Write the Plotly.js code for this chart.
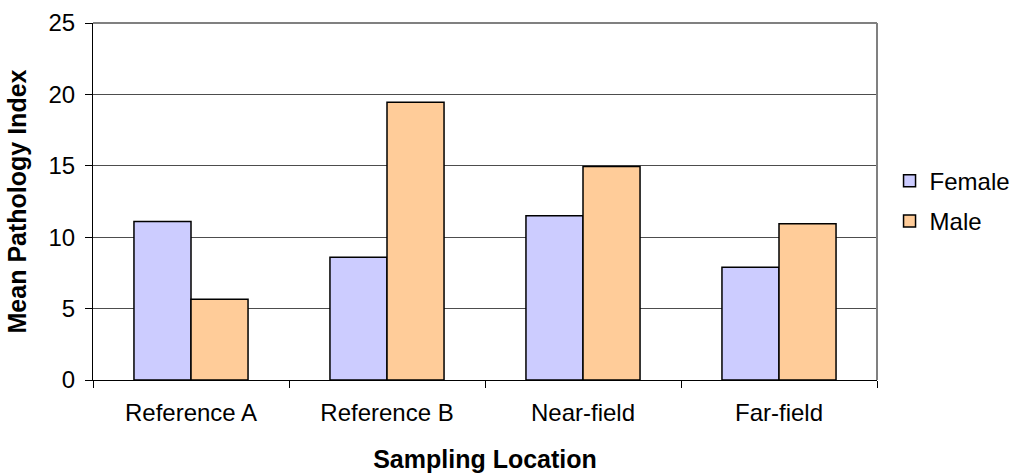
<!DOCTYPE html>
<html>
<head>
<meta charset="utf-8">
<script src="https://cdn.plot.ly/plotly-3.0.1.min.js"></script>
<style>
  html, body { margin: 0; padding: 0; background: #ffffff; }
  #chart { width: 1011px; height: 473px; }
</style>
</head>
<body>
<div id="chart"></div>
<script>
// Sampling locations and mean pathology index by sex
const locations = ["Reference A", "Reference B", "Near-field", "Far-field"];
const femaleIndex = [11.1, 8.6, 11.5, 7.9];
const maleIndex = [5.65, 19.45, 14.95, 10.95];
const yTicks = [0, 5, 10, 15, 20, 25];

const FONT = "Arial, 'Liberation Sans', sans-serif";

const traces = [
  {
    type: "bar",
    name: "Female",
    x: locations,
    y: femaleIndex,
    legendgroup: "f",
    marker: { color: "#ccccff", line: { color: "#000000", width: 1.5 } },
    hoverinfo: "skip"
  },
  {
    type: "bar",
    name: "Male",
    x: locations,
    y: maleIndex,
    legendgroup: "m",
    marker: { color: "#ffcc99", line: { color: "#000000", width: 1.5 } },
    hoverinfo: "skip"
  }
];

const layout = {
  width: 1011,
  height: 473,
  margin: { l: 93, r: 134, t: 23, b: 93, autoexpand: false },
  paper_bgcolor: "#ffffff",
  plot_bgcolor: "#ffffff",
  font: { family: FONT, size: 24, color: "#000000" },
  barmode: "group",
  bargap: 0.418,
  bargroupgap: 0,
  showlegend: true,
  legend: {
    x: 1.016, y: 0.501, xanchor: "left", yanchor: "middle",
    font: { family: FONT, size: 24, color: "#000000" },
    traceorder: "grouped",
    tracegroupgap: 6,
    bgcolor: "rgba(0,0,0,0)"
  },
  xaxis: {
    type: "category",
    tickson: "boundaries",
    ticks: "outside",
    ticklen: 7,
    tickcolor: "#000000",
    showline: true,
    linecolor: "#000000",
    linewidth: 1,
    showgrid: false,
    ticklabelstandoff: 11,
    tickfont: { family: FONT, size: 24 },
    title: { text: "Sampling Location", font: { family: FONT, size: 25, weight: "bold" }, standoff: 27 }
  },
  yaxis: {
    range: [0, 25],
    tickvals: yTicks,
    ticktext: yTicks.map(String),
    ticks: "outside",
    ticklen: 7,
    tickcolor: "#000000",
    showline: true,
    linecolor: "#000000",
    linewidth: 1,
    showgrid: true,
    gridcolor: "#4d4d4d",
    gridwidth: 1,
    zeroline: false,
    ticklabelstandoff: 5,
    tickfont: { family: FONT, size: 24 },
    title: { text: "Mean Pathology Index", font: { family: FONT, size: 25, weight: "bold" }, standoff: 14 }
  },
  shapes: [
    { type: "line", xref: "paper", yref: "paper", x0: 0, x1: 1, y0: 1, y1: 1,
      line: { color: "#808080", width: 2 }, layer: "above" },
    { type: "line", xref: "paper", yref: "paper", x0: 1, x1: 1, y0: 0, y1: 1,
      line: { color: "#808080", width: 2 }, layer: "above" }
  ]
};

Plotly.newPlot("chart", traces, layout, { displayModeBar: false, staticPlot: true });
</script>
</body>
</html>
